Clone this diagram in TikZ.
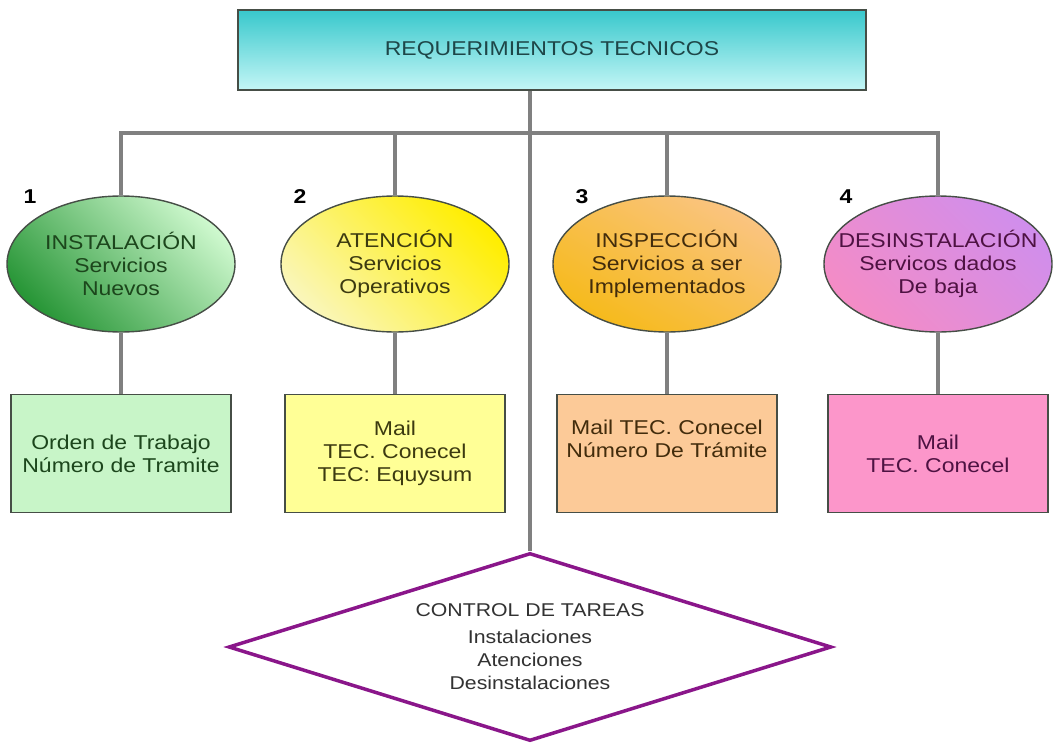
\documentclass[tikz,border=0pt]{standalone}
\usepackage{fontspec}
\setmainfont[FakeStretch=1.15]{Liberation Sans}
\usepackage{xcolor}
\usepackage{tikz}
\usetikzlibrary{positioning,shapes.geometric}

\definecolor{linkgray}{RGB}{128,128,128}
\definecolor{edgedark}{RGB}{70,78,70}
\definecolor{reqtop}{RGB}{56,200,204}
\definecolor{reqbot}{RGB}{196,246,246}
\definecolor{reqtext}{RGB}{30,70,72}
\definecolor{instdark}{RGB}{40,150,55}
\definecolor{instlight}{RGB}{205,248,205}
\definecolor{insttext}{RGB}{28,70,28}
\definecolor{atenpale}{RGB}{250,246,185}
\definecolor{atenyel}{RGB}{255,238,0}
\definecolor{atentext}{RGB}{60,58,16}
\definecolor{insppeach}{RGB}{250,196,130}
\definecolor{inspgold}{RGB}{246,186,26}
\definecolor{insptext}{RGB}{66,44,12}
\definecolor{desipink}{RGB}{244,140,198}
\definecolor{desiviol}{RGB}{208,142,236}
\definecolor{desitext}{RGB}{78,18,66}
\definecolor{boxgreen}{RGB}{200,245,200}
\definecolor{boxyellow}{RGB}{255,255,150}
\definecolor{boxpeach}{RGB}{252,202,152}
\definecolor{boxpink}{RGB}{252,150,202}
\definecolor{ctrlpurple}{RGB}{138,22,138}
\definecolor{ctrltext}{RGB}{50,50,50}

\begin{document}
\begin{tikzpicture}[
  x=1pt, y=-1pt,
  txt/.style={align=center, font=\fontsize{20}{23}\selectfont},
  oval/.style={txt, ellipse, draw=edgedark, line width=1.4pt,
               minimum width=228pt, minimum height=136pt, inner sep=0pt},
  card/.style={txt, rectangle, draw=edgedark, line width=1.4pt,
               minimum width=220pt, minimum height=118pt},
  link/.style={draw=linkgray, line width=3.5pt},
  num/.style={font=\fontsize{20}{22}\selectfont\bfseries}
]
\useasboundingbox (0,0) rectangle (1054,744);

\node[txt, draw=edgedark, line width=1.4pt, top color=reqtop, bottom color=reqbot,
      minimum width=628pt, minimum height=80pt, text=reqtext] (req) at (552,50)
     {REQUERIMIENTOS TECNICOS};

% the four kinds of work
\node[oval, bottom color=instdark, top color=instlight, shading angle=-45,
      text=insttext] (inst) at (121,264) {INSTALACIÓN\\Servicios\\Nuevos};
\node[oval, bottom color=atenpale, top color=atenyel, shading angle=-45,
      text=atentext] (aten) at (395,264) {ATENCIÓN\\Servicios\\Operativos};
\node[oval, top color=insppeach, bottom color=inspgold, shading angle=-30,
      text=insptext] (insp) at (667,264) {INSPECCIÓN\\Servicios a ser\\Implementados};
\node[oval, bottom color=desipink, top color=desiviol, shading angle=-45,
      inner xsep=-19pt, text=desitext] (desi) at (938,264)
     {DESINSTALACIÓN\\Servicos dados\\De baja};

\node[num] (n1) at (30,197) {1};
\node[num] (n2) at (300,197) {2};
\node[num] (n3) at (582,197) {3};
\node[num] (n4) at (846,197) {4};

\node[card, fill=boxgreen, text=insttext, below=61pt of inst] (ord)
     {Orden de Trabajo\\Número de Tramite};
\node[card, fill=boxyellow, text=atentext, below=61pt of aten] (mail)
     {Mail\\TEC. Conecel\\TEC: Equysum};
\node[card, fill=boxpeach, text=insptext, text depth=30pt, below=61pt of insp] (tram)
     {Mail TEC. Conecel\\Número De Trámite};
\node[card, fill=boxpink, text=desitext, below=61pt of desi] (baja)
     {Mail\\TEC. Conecel};

\node[txt, diamond, aspect=3.2, draw=ctrlpurple, line width=3.5pt, fill=white,
      minimum width=603pt, minimum height=188pt, inner sep=2pt, text=ctrltext,
      font=\fontsize{18.5}{23}\selectfont] (ctrl) at (530,647)
     {CONTROL DE TAREAS\\[4pt]Instalaciones\\Atenciones\\Desinstalaciones};

% connectors
\coordinate (bus) at (530,133);
\draw[link] (req.south -| ctrl.north) -- (ctrl.north);
\draw[link] (inst.north) |- (bus) -| (desi.north);
\draw[link] (aten.north) -- (aten.north |- bus);
\draw[link] (insp.north) -- (insp.north |- bus);
\draw[link] (inst.south) -- (ord.north);
\draw[link] (aten.south) -- (mail.north);
\draw[link] (insp.south) -- (tram.north);
\draw[link] (desi.south) -- (baja.north);
\end{tikzpicture}
\end{document}
